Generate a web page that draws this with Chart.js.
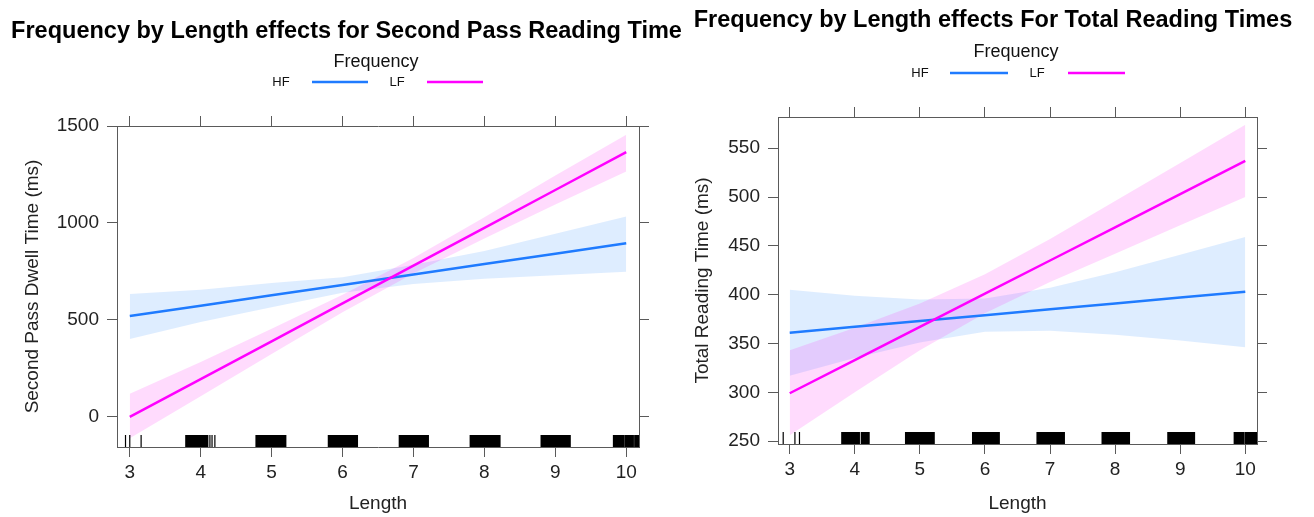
<!DOCTYPE html>
<html>
<head>
<meta charset="utf-8">
<script src="https://cdn.jsdelivr.net/npm/chart.js@4.4.1/dist/chart.umd.min.js"></script>
<style>
  body { margin: 0; background: #fff; }
  #wrap { position: relative; width: 1314px; height: 517px; }
  canvas { position: absolute; top: 0; }
  #spChart { left: 0; }
  #trChart { left: 672px; }
</style>
</head>
<body>
<div id="wrap">
  <canvas id="spChart" width="693" height="517"></canvas>
  <canvas id="trChart" width="642" height="517"></canvas>
</div>
<script>
// word length values where the effects are evaluated
const lengths = [3, 4, 5, 6, 7, 8, 9, 10];
const xTicks = [3, 4, 5, 6, 7, 8, 9, 10];

// second pass dwell time (ms)
const spTicks = [0, 500, 1000, 1500];
const spHF      = [520, 573, 627, 680, 734, 788, 841, 895];
const spHFUpper = [634, 656, 690, 720, 785, 855, 945, 1033];
const spHFLower = [402, 490, 565, 640, 685, 712, 730, 748];
const spLF      = [0, 195, 390, 585, 780, 975, 1170, 1365];
const spLFUpper = [119, 283, 455, 630, 820, 1030, 1245, 1455];
const spLFLower = [-110, 107, 325, 540, 740, 920, 1095, 1265];

// total reading time (ms)
const trTicks = [250, 300, 350, 400, 450, 500, 550];
const trHF      = [361, 367, 373, 379, 385, 391, 397, 403];
const trHFUpper = [405, 399, 395, 396, 407, 423, 441, 459];
const trHFLower = [317, 335, 351, 362, 363, 359, 353, 346];
const trLF      = [299, 333, 367, 401, 435, 469, 503, 537];
const trLFUpper = [343, 366, 391, 421, 457, 496, 535, 574];
const trLFLower = [256, 300, 343, 381, 413, 442, 471, 500];

// rug of observed lengths (jittered), as [from, to] ranges
const spRug = [[2.94, 2.94], [3.0, 3.0], [3.16, 3.16], [3.79, 4.1], [4.13, 4.13], [4.16, 4.16], [4.2, 4.2],
  [4.78, 5.2], [5.8, 6.21], [6.8, 7.21], [7.8, 8.22], [8.8, 9.21], [9.82, 9.96], [9.98, 10.1], [10.12, 10.2]];
const trRug = [[2.9, 2.9], [3.08, 3.08], [3.15, 3.15], [3.8, 4.07], [4.1, 4.22],
  [4.78, 5.22], [5.81, 6.22], [6.8, 7.22], [7.8, 8.22], [8.81, 9.22], [9.83, 9.98], [10.0, 10.2]];

const FONT = '"Liberation Sans", Arial, Helvetica, sans-serif';
const AXIS = '#5a5a5a';
const HF_COL = '#1f7bff';
const LF_COL = '#ff00ff';
const HF_BAND = 'rgba(0, 115, 255, 0.13)';
const LF_BAND = 'rgba(255, 0, 240, 0.14)';
const NONE = 'rgba(0,0,0,0)';

function pts(ys) {
  return lengths.map((x, i) => ({ x: x, y: ys[i] }));
}

// lattice style key: label first, then the line sample
const latticeKey = {
  id: 'latticeKey',
  afterDraw(chart, args, o) {
    const ctx = chart.ctx;
    ctx.save();
    ctx.textAlign = 'center';
    ctx.textBaseline = 'middle';
    ctx.fillStyle = '#111';
    ctx.font = '18px ' + FONT;
    ctx.fillText(o.title, o.titleX, o.titleY);
    ctx.font = '13px ' + FONT;
    o.items.forEach(it => {
      const ds = chart.data.datasets.find(d => d.label === it.label);
      ctx.fillStyle = '#111';
      ctx.fillText(it.label, it.textX, o.rowY);
      ctx.strokeStyle = ds.borderColor;
      ctx.lineWidth = 2.5;
      ctx.beginPath();
      ctx.moveTo(it.x1, o.rowY);
      ctx.lineTo(it.x2, o.rowY);
      ctx.stroke();
    });
    ctx.restore();
  }
};

const rug = {
  id: 'rug',
  afterDatasetsDraw(chart, args, o) {
    const { ctx, chartArea, scales } = chart;
    ctx.save();
    ctx.beginPath();
    ctx.rect(chartArea.left, chartArea.top, chartArea.right - chartArea.left, chartArea.bottom - chartArea.top);
    ctx.clip();
    ctx.fillStyle = '#000';
    o.ranges.forEach(r => {
      const a = scales.x.getPixelForValue(r[0]);
      const b = scales.x.getPixelForValue(r[1]);
      ctx.fillRect(a - 0.6, chartArea.bottom - o.size, Math.max(b - a, 0) + 1.2, o.size);
    });
    ctx.restore();
  }
};

function makePanel(id, p) {
  const titleSize = 23.5;
  const topH = p.boxTop - (p.titlePad + titleSize * 1.2);
  const setTicks = vals => s => { s.ticks = vals.map(v => ({ value: v })); };
  const grid = { drawOnChartArea: false, drawTicks: true, tickLength: 10, color: AXIS, lineWidth: 1 };
  const border = { display: true, color: AXIS, width: 1 };
  const tickFont = { family: FONT, size: 19 };

  new Chart(document.getElementById(id), {
    type: 'line',
    data: {
      datasets: [
        { label: 'LF', data: pts(p.lf), borderColor: LF_COL, borderWidth: 2.5, pointRadius: 0, fill: false },
        { label: 'HF', data: pts(p.hf), borderColor: HF_COL, borderWidth: 2.5, pointRadius: 0, fill: false },
        { label: 'LF upper', data: pts(p.lfUp), borderColor: NONE, borderWidth: 0, pointRadius: 0, backgroundColor: LF_BAND, fill: '+1' },
        { label: 'LF lower', data: pts(p.lfLo), borderColor: NONE, borderWidth: 0, pointRadius: 0, fill: false },
        { label: 'HF upper', data: pts(p.hfUp), borderColor: NONE, borderWidth: 0, pointRadius: 0, backgroundColor: HF_BAND, fill: '+1' },
        { label: 'HF lower', data: pts(p.hfLo), borderColor: NONE, borderWidth: 0, pointRadius: 0, fill: false }
      ]
    },
    options: {
      responsive: false,
      animation: false,
      layout: { autoPadding: false, padding: 0 },
      elements: { line: { tension: 0 } },
      scales: {
        x: {
          type: 'linear', position: 'bottom', min: 2.82, max: 10.18,
          afterBuildTicks: setTicks(xTicks),
          afterFit: s => { s.height = p.bottomH; },
          grid: grid, border: border,
          ticks: { color: '#222', font: tickFont, padding: 4, maxRotation: 0, autoSkip: false, callback: v => v },
          title: { display: true, text: 'Length', color: '#222', font: tickFont, padding: { top: 0, bottom: 2 } }
        },
        x2: {
          type: 'linear', position: 'top', min: 2.82, max: 10.18,
          afterBuildTicks: setTicks(xTicks),
          afterFit: s => { s.height = topH; },
          grid: grid, border: border,
          ticks: { display: false }
        },
        y: {
          type: 'linear', position: 'left', min: p.yMin, max: p.yMax,
          afterBuildTicks: setTicks(p.yTicks),
          afterFit: s => { s.width = p.leftW; },
          grid: grid, border: border,
          ticks: { color: '#222', font: tickFont, padding: 8, callback: v => v },
          title: { display: true, text: p.yTitle, color: '#222', font: tickFont, padding: { top: p.yTitlePad, bottom: 0 } }
        },
        y2: {
          type: 'linear', position: 'right', min: p.yMin, max: p.yMax,
          afterBuildTicks: setTicks(p.yTicks),
          afterFit: s => { s.width = p.rightW; },
          grid: grid, border: border,
          ticks: { display: false }
        }
      },
      plugins: {
        legend: { display: false },
        tooltip: { enabled: false },
        title: {
          display: true, text: p.title, color: '#000',
          font: { family: FONT, size: titleSize, weight: 'bold' },
          padding: { top: p.titlePad, bottom: 0 }
        },
        latticeKey: p.key,
        rug: { ranges: p.rug, size: 12 }
      }
    },
    plugins: [rug, latticeKey]
  });
}

makePanel('spChart', {
  title: 'Frequency by Length effects for Second Pass Reading Time',
  yTitle: 'Second Pass Dwell Time (ms)',
  hf: spHF, hfUp: spHFUpper, hfLo: spHFLower,
  lf: spLF, lfUp: spLFUpper, lfLo: spLFLower,
  yTicks: spTicks, yMin: -155, yMax: 1500,
  rug: spRug,
  titlePad: 17, boxTop: 126, bottomH: 70, leftW: 117, rightW: 54, yTitlePad: 21,
  key: { title: 'Frequency', titleX: 376, titleY: 62, rowY: 82,
         items: [{ label: 'HF', textX: 281, x1: 312, x2: 368 }, { label: 'LF', textX: 397, x1: 427, x2: 483 }] }
});

makePanel('trChart', {
  title: 'Frequency by Length effects For Total Reading Times',
  yTitle: 'Total Reading Time (ms)',
  hf: trHF, hfUp: trHFUpper, hfLo: trHFLower,
  lf: trLF, lfUp: trLFUpper, lfLo: trLFLower,
  yTicks: trTicks, yMin: 247, yMax: 582,
  rug: trRug,
  titlePad: 6, boxTop: 117, bottomH: 73, leftW: 106, rightW: 57, yTitlePad: 19,
  key: { title: 'Frequency', titleX: 344, titleY: 52, rowY: 73,
         items: [{ label: 'HF', textX: 248, x1: 278, x2: 336 }, { label: 'LF', textX: 365, x1: 396, x2: 453 }] }
});
</script>
</body>
</html>
